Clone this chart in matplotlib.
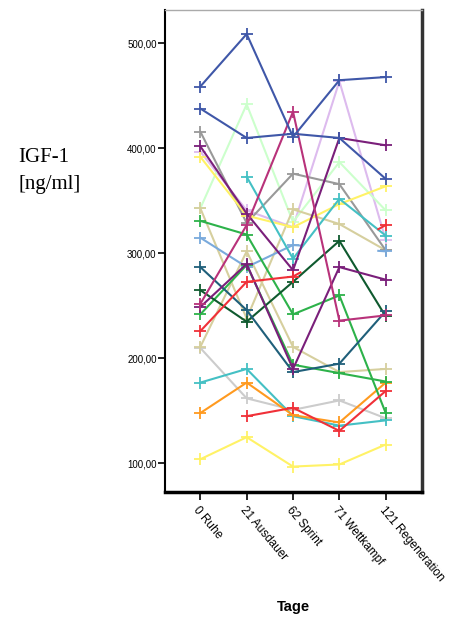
import numpy as np
import matplotlib
matplotlib.use("Agg")
import matplotlib.pyplot as plt
from matplotlib.ticker import FuncFormatter

nan = np.nan

# Measurement days (x categories)
tage = ["0 Ruhe", "21 Ausdauer", "62 Sprint", "71 Wettkampf", "121 Regeneration"]

# IGF-1 values per subject [ng/ml]
blau_1      = [459, 509, 411, 465, 468]
blau_2      = [438, 410, 414, 410, 371]
grau        = [416, 329, 376, 366, 303]
lila        = [397, 341, 325, 464, 313]
dunkellila  = [402, 338, 284, 410, 403]
gelb_1      = [392, 336, 325, 347, 364]
hellgruen   = [343, 442, 330, 387, 341]
beige_1     = [343, 238, 342, 328, 303]
gruen_1     = [331, 318, 242, 260, 148]
hellblau    = [315, 287, 308, nan, 302]
petrol      = [287, 246, 187, 195, 245]
dunkelgruen = [265, 235, 273, 312, 240]
magenta     = [252, 327, 435, 236, 241]
violett     = [249, 290, 190, 287, 275]
gruen_2     = [242, 289, 194, 186, 178]
rot_1       = [226, 273, 278, nan, 327]
beige_2     = [211, 302, 211, 187, 190]
hellgrau    = [210, 162, 151, 160, 143]
tuerkis_1   = [177, 190, 145, 136, 141]
tuerkis_2   = [nan, 373, 295, 352, 317]
orange      = [148, 177, 146, 139, 177]
rot_2       = [nan, 145, 153, 131, 169]
gelb_2      = [104, 125,  97,  99, 118]

serien = [
    (lila, "#DDBBEE"),
    (hellgruen, "#CCFFCC"),
    (hellgrau, "#CCCCCC"),
    (beige_1, "#D6CF9E"),
    (beige_2, "#D6CF9E"),
    (grau, "#999999"),
    (gelb_1, "#FFF266"),
    (gelb_2, "#FFF266"),
    (hellblau, "#7AAADC"),
    (tuerkis_1, "#44C0C4"),
    (tuerkis_2, "#44C0C4"),
    (orange, "#FF9A1F"),
    (gruen_1, "#2DB24A"),
    (gruen_2, "#2DB24A"),
    (dunkelgruen, "#0F5A2F"),
    (petrol, "#1F5F7A"),
    (violett, "#7A1F7A"),
    (dunkellila, "#7A1F7A"),
    (magenta, "#B8327A"),
    (rot_1, "#F03038"),
    (rot_2, "#F03038"),
    (blau_1, "#3F57A8"),
    (blau_2, "#3F57A8"),
]

fig = plt.figure(figsize=(4.58, 6.19), dpi=100)
ax = fig.add_axes([0.3603, 0.2057, 0.5605, 0.7782])

x = np.arange(len(tage))
for werte, farbe in serien:
    y = np.array(werte, dtype=float)
    ax.plot(x, y, color=farbe, lw=1.5, marker="+", ms=8, mew=1.3,
            solid_joinstyle="miter", zorder=3)
    # short stubs towards the neighbour across a missing value
    fehl = np.where(np.isnan(y))[0]
    for i in fehl:
        if 0 < i < len(y) - 1 and not np.isnan(y[i - 1]) and not np.isnan(y[i + 1]):
            x0, x1 = i - 1, i + 1
            y0, y1 = y[i - 1], y[i + 1]
            f = 0.08
            ax.plot([x0, x0 + f * (x1 - x0)], [y0, y0 + f * (y1 - y0)],
                    color=farbe, lw=1.5, zorder=3)
            ax.plot([x1 - f * (x1 - x0), x1], [y1 - f * (y1 - y0), y1],
                    color=farbe, lw=1.5, zorder=3)

ax.set_xlim(-0.762, 4.777)
ax.set_ylim(73.1, 531.9)

ax.set_yticks([100, 200, 300, 400, 500])
ax.yaxis.set_major_formatter(FuncFormatter(lambda v, p: f"{v:.2f}".replace(".", ",")))
ax.set_xticks(x)
ax.set_xticklabels(tage, rotation=-50, ha="left", va="top", rotation_mode="anchor",
                   fontsize=8.5, family="Liberation Sans")
for lab in ax.get_yticklabels():
    lab.set_family("Liberation Sans")
    lab.set_fontsize(7)

ax.tick_params(axis="y", direction="out", length=5, width=1.2, pad=1, colors="black")
ax.tick_params(axis="x", direction="out", length=6, width=1.2, pad=3, colors="black")

ax.spines["left"].set_linewidth(1.5)
ax.spines["bottom"].set_linewidth(2.5)
ax.spines["right"].set_linewidth(2.5)
ax.spines["right"].set_color("#333333")
ax.spines["top"].set_linewidth(1.0)
ax.spines["top"].set_color("#AAAAAA")

fig.text(18 / 458, 1 - 158 / 619, "IGF-1", family="Liberation Serif", fontsize=15,
         ha="left", va="center")
fig.text(18 / 458, 1 - 184 / 619, "[ng/ml]", family="Liberation Serif", fontsize=15,
         ha="left", va="center")
fig.text(293 / 458, 1 - 607 / 619, "Tage", family="Liberation Sans", fontsize=10.5,
         fontweight="bold", ha="center", va="center")

fig.savefig("out.png", dpi=100)
